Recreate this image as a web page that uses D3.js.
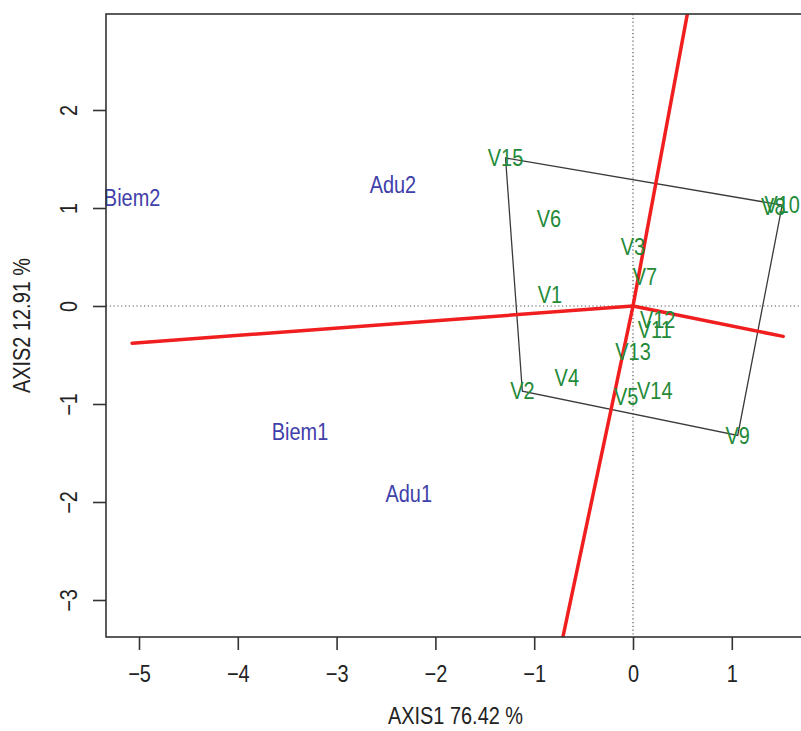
<!DOCTYPE html>
<html>
<head>
<meta charset="utf-8">
<script src="https://cdn.jsdelivr.net/npm/d3@7/dist/d3.min.js"></script>
<style>
  html, body { margin: 0; padding: 0; background: #fff; }
  svg { display: block; }
  text { font-family: "Liberation Sans", Arial, sans-serif; }
</style>
</head>
<body>
<svg id="chart" width="801" height="731"></svg>
<script>
// ---- data ----
const groupNames = ["Biem2", "Adu2", "Biem1", "Adu1"];
const groupX = [-5.07, -2.43, -3.37, -2.27];
const groupY = [1.10, 1.24, -1.28, -1.92];

const varNames = ["V1","V2","V3","V4","V5","V6","V7","V8","V9","V10","V11","V12","V13","V14","V15"];
const varX = [-0.84, -1.12, 0.00, -0.67, -0.07, -0.85, 0.12, 1.42, 1.06, 1.51, 0.22, 0.25, 0.00, 0.22, -1.29];
const varY = [0.11, -0.87, 0.60, -0.73, -0.93, 0.89, 0.30, 1.01, -1.32, 1.03, -0.24, -0.14, -0.47, -0.87, 1.51];

// red axis segments from origin
const segEndX = [0.55, -0.71, -5.07, 1.52];
const segEndY = [2.98, -3.38, -0.38, -0.31];

const xTicks = [-5, -4, -3, -2, -1, 0, 1];
const yTicks = [-3, -2, -1, 0, 1, 2];
const xTitle = "AXIS1 76.42 %";
const yTitle = "AXIS2 12.91 %";

// ---- layout ----
const L = 106, R = 805, T = 14, B = 637;
const x = d3.scaleLinear().domain([(L - 633) / 98.8, (R - 633) / 98.8]).range([L, R]);
const y = d3.scaleLinear().domain([(306 - B) / 98, (306 - T) / 98]).range([B, T]);
const SX = 0.83; // narrow font look
const FS = 24;

const svg = d3.select("#chart");
svg.append("rect").attr("width", 801).attr("height", 731).attr("fill", "#fff");

svg.append("defs").append("clipPath").attr("id", "clip")
  .append("rect").attr("x", L).attr("y", T).attr("width", R - L).attr("height", B - T);

const plot = svg.append("g").attr("clip-path", "url(#clip)");

// dotted reference lines
plot.append("line")
  .attr("x1", L).attr("x2", R).attr("y1", y(0)).attr("y2", y(0))
  .attr("stroke", "#555").attr("stroke-width", 1.2).attr("stroke-dasharray", "1.2,2.6");
plot.append("line")
  .attr("y1", T).attr("y2", B).attr("x1", x(0)).attr("x2", x(0))
  .attr("stroke", "#555").attr("stroke-width", 1.2).attr("stroke-dasharray", "1.2,2.6");

// convex hull of variables
const pts = varX.map((v, i) => [x(v), y(varY[i])]);
const hull = d3.polygonHull(pts);
plot.append("path")
  .attr("d", "M" + hull.join("L") + "Z")
  .attr("fill", "none").attr("stroke", "#3a3a3a").attr("stroke-width", 1.3);

// red segments
segEndX.forEach((ex, i) => {
  plot.append("line")
    .attr("x1", x(0)).attr("y1", y(0))
    .attr("x2", x(ex)).attr("y2", y(segEndY[i]))
    .attr("stroke", "#f01e1e").attr("stroke-width", 3.5).attr("stroke-linecap", "round");
});

// labels
function label(g, px, py, txt, color) {
  g.append("text")
    .attr("transform", `translate(${px},${py}) scale(${SX},1)`)
    .attr("text-anchor", "middle").attr("dominant-baseline", "central")
    .attr("font-size", FS).attr("fill", color).text(txt);
}
const lab = svg.append("g");
varNames.forEach((n, i) => label(lab, x(varX[i]), y(varY[i]), n, "#238a38"));
groupNames.forEach((n, i) => label(lab, x(groupX[i]), y(groupY[i]), n, "#4040aa"));

// frame
svg.append("rect").attr("x", L).attr("y", T).attr("width", R - L).attr("height", B - T)
  .attr("fill", "none").attr("stroke", "#333").attr("stroke-width", 1.6);

// axes
const gx = svg.append("g").attr("transform", `translate(0,${B})`)
  .call(d3.axisBottom(x).tickValues(xTicks).tickSize(13).tickFormat(d3.format("d")));
gx.select(".domain").remove();
gx.selectAll(".tick line").attr("stroke", "#333").attr("stroke-width", 1.6);
gx.selectAll(".tick text")
  .attr("y", null).attr("dy", null)
  .attr("dominant-baseline", "central")
  .attr("transform", `translate(0,37) scale(${SX},1)`)
  .attr("font-size", FS).attr("font-family", "Liberation Sans, Arial, sans-serif")
  .attr("fill", "#222");

const gy = svg.append("g").attr("transform", `translate(${L},0)`)
  .call(d3.axisLeft(y).tickValues(yTicks).tickSize(13).tickFormat(d3.format("d")));
gy.select(".domain").remove();
gy.selectAll(".tick line").attr("stroke", "#333").attr("stroke-width", 1.6);
gy.selectAll(".tick text")
  .attr("x", null).attr("dy", null)
  .attr("text-anchor", "middle")
  .attr("dominant-baseline", "central")
  .attr("transform", `translate(-37,0) rotate(-90) scale(${SX},1)`)
  .attr("font-size", FS).attr("font-family", "Liberation Sans, Arial, sans-serif")
  .attr("fill", "#222");

// titles
svg.append("text")
  .attr("transform", `translate(${(L + R) / 2},716) scale(${SX},1)`)
  .attr("text-anchor", "middle").attr("dominant-baseline", "central")
  .attr("font-size", FS).attr("fill", "#222").text(xTitle);
svg.append("text")
  .attr("transform", `translate(22,${(T + B) / 2}) rotate(-90) scale(${SX},1)`)
  .attr("text-anchor", "middle").attr("dominant-baseline", "central")
  .attr("font-size", FS).attr("fill", "#222").text(yTitle);
</script>
</body>
</html>
